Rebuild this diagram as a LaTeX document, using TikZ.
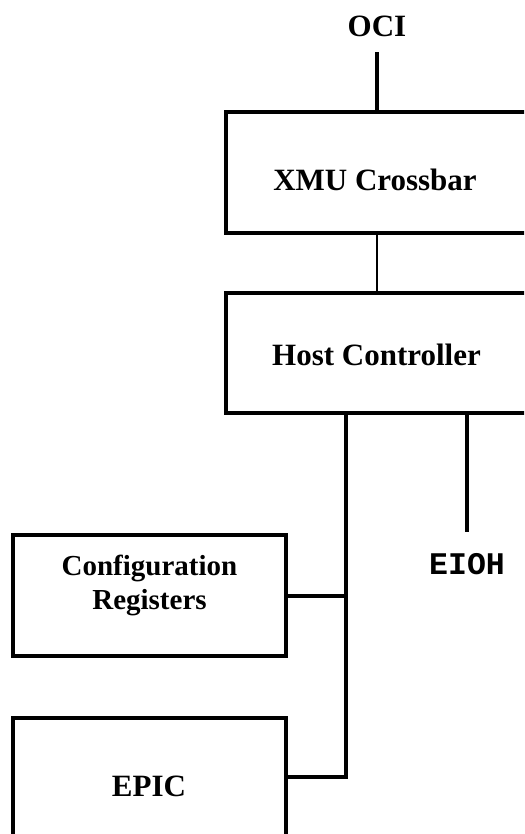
\documentclass[tikz,border=0pt]{standalone}
\usepackage{fontspec}
\setmainfont{Liberation Serif}
\setmonofont{Liberation Mono}
\begin{document}
\begin{tikzpicture}[x=1pt,y=-1pt,
  box/.style={draw, line width=4pt, rectangle, inner sep=0pt},
  lbl/.style={font=\bfseries\fontsize{31}{34}\selectfont, inner sep=0pt, align=center},
  smalllbl/.style={font=\bfseries\fontsize{29}{34}\selectfont, inner sep=0pt, align=center},
  monolbl/.style={font=\ttfamily\bfseries\fontsize{31.5}{34}\selectfont, inner sep=0pt},
  wire/.style={line width=4pt},
  thinwire/.style={line width=2pt}]
\useasboundingbox (0,0) rectangle (524,834);
\clip (0,0) rectangle (524,834);

% blocks
\node[box, minimum width=302pt, minimum height=121pt] (xmu)  at (377,172.5) {};
\node[box, minimum width=302pt, minimum height=120pt] (host) at (377,353) {};
\node[box, minimum width=273pt, minimum height=121pt] (cfg)  at (149.5,595.5) {};
\node[box, minimum width=273pt, minimum height=136pt] (epic) at (149.5,786) {};

% block titles
\node[lbl] (xmut)  at (375,180) {XMU Crossbar};
\node[lbl] (hostt) at (376.5,355) {Host Controller};
\node[smalllbl] (cfgt) at (149.5,585) {Configuration\\Registers};
\node[lbl] (epict) at (149,786) {EPIC};

% external ports
\node[lbl] (oci) at (377,26.5) {OCI};
\node[monolbl] (eioh) at (467,564) {EIOH};

% connections
\coordinate (busknee) at (346,777);
\draw[wire, shorten <=15pt] (oci.south) -- (xmu.north);
\draw[thinwire] (xmu.south) -- (host.north);
\draw[wire] (host.south -| busknee) -- (busknee) -- (busknee -| epic.east);
\draw[wire] (cfg.east) -- (cfg.east -| busknee);
\draw[wire, shorten >=21pt] (host.south -| eioh.north) -- (eioh.north);
\end{tikzpicture}
\end{document}
